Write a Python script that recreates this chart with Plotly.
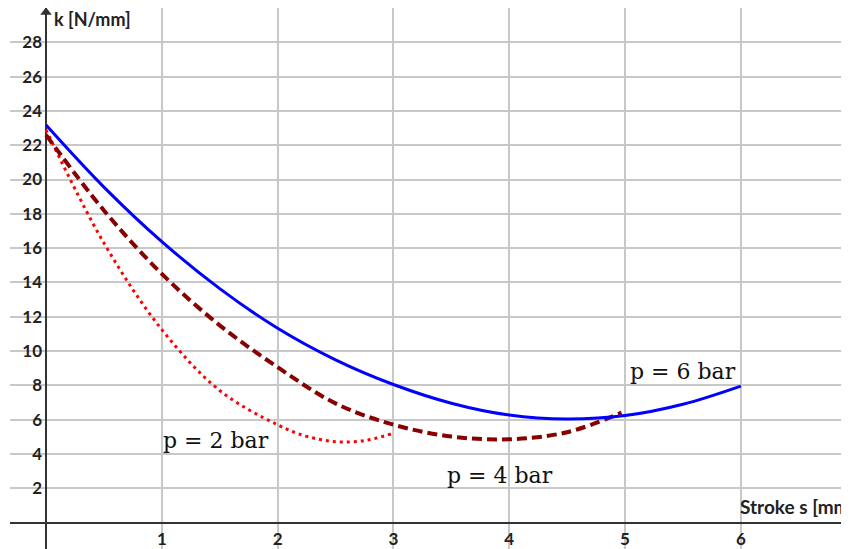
import plotly.graph_objects as go

# ---- data ----
s_p6 = [0, 0.5, 1.0, 1.5, 2.0, 2.5, 3.0, 3.5, 4.0, 4.5, 5.0, 5.5, 6.0]
k_p6 = [23.18, 19.56, 16.38, 13.64, 11.33, 9.49, 8.05, 6.96, 6.27, 6.04, 6.24, 6.9, 7.96]

s_p4 = [0, 0.5, 1.0, 1.5, 2.0, 2.5, 3.0, 3.5, 4.0, 4.5, 4.97]
k_p4 = [22.6, 18.2, 14.5, 11.5, 9.06, 6.95, 5.71, 5.02, 4.86, 5.27, 6.41]

s_p2 = [0, 0.5, 1.0, 1.5, 2.0, 2.25, 2.5, 2.75, 2.98]
k_p2 = [22.9, 16.3, 11.25, 7.7, 5.7, 5.03, 4.72, 4.78, 5.17]

x_ticks = [0, 1, 2, 3, 4, 5, 6]
x_tick_text = ["", "1", "2", "3", "4", "5", "6"]
y_ticks = [0, 2, 4, 6, 8, 10, 12, 14, 16, 18, 20, 22, 24, 26, 28, 30]
y_tick_text = ["", "2", "4", "6", "8", "10", "12", "14", "16", "18", "20", "22", "24", "26", "28", ""]

labels = ["p = 2 bar", "p = 4 bar", "p = 6 bar"]
label_s = [1.468, 3.92, 5.50]
label_k = [4.80, 2.72, 8.78]

x_range = [-0.311, 6.934]
y_range = [-1.539, 30.0]

fig = go.Figure()
fig.add_trace(go.Scatter(x=s_p2, y=k_p2, mode="lines",
                         line=dict(color="#ff0000", width=3, dash="3px,4px", shape="spline")))
fig.add_trace(go.Scatter(x=s_p4, y=k_p4, mode="lines",
                         line=dict(color="#880000", width=4, dash="10px,5px", shape="spline")))
fig.add_trace(go.Scatter(x=s_p6, y=k_p6, mode="lines",
                         line=dict(color="#0000ff", width=3, shape="spline")))
# arrow head on the k axis
fig.add_trace(go.Scatter(x=[0], y=[29.75], mode="markers", cliponaxis=False,
                         marker=dict(symbol="triangle-up", size=10, color="#333333")))

for t, xs, ys in zip(labels, label_s, label_k):
    fig.add_annotation(x=xs, y=ys, text=t, showarrow=False,
                       font=dict(family="DejaVu Serif", size=22, color="#111111"))

fig.add_annotation(x=0.052, y=29.35, text="k [N/mm]", showarrow=False, xanchor="left",
                   font=dict(family="Lato", size=18, color="#222222", weight="bold"))
fig.add_annotation(x=5.976, y=0.94, text="Stroke s [mm", showarrow=False, xanchor="left",
                   font=dict(family="Lato", size=19, color="#222222", weight="bold"))

tick_font = dict(family="Lato", size=17, color="#222222", weight="bold")
fig.update_layout(
    width=841, height=541,
    margin=dict(l=2, r=0, t=0, b=0),
    paper_bgcolor="white", plot_bgcolor="white",
    showlegend=False, hovermode=False,
    xaxis=dict(range=x_range, tickvals=x_ticks, ticktext=x_tick_text, showgrid=True,
               gridcolor="#c8c8c8", gridwidth=1.5, zeroline=True, zerolinecolor="#333333",
               zerolinewidth=2, showline=False, anchor="free",
               position=(0 - y_range[0]) / (y_range[1] - y_range[0]),
               tickfont=tick_font, ticks="", automargin=False, ticklabelstandoff=4),
    yaxis=dict(range=y_range, tickvals=y_ticks, ticktext=y_tick_text, showgrid=True,
               gridcolor="#c8c8c8", gridwidth=1.5, zeroline=True, zerolinecolor="#333333",
               zerolinewidth=2, showline=False, anchor="free",
               position=(0 - x_range[0]) / (x_range[1] - x_range[0]),
               tickfont=tick_font, ticks="", automargin=False, ticklabelstandoff=4),
)

fig.write_html("out.html")
